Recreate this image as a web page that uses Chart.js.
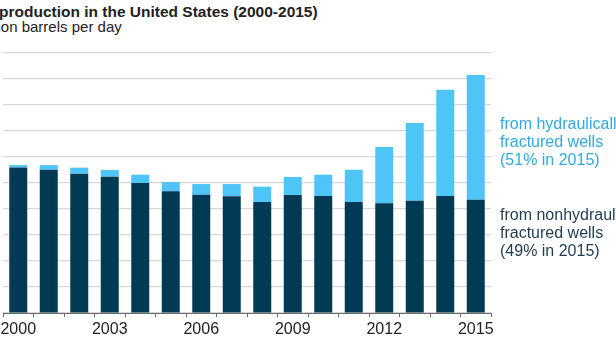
<!DOCTYPE html>
<html>
<head>
<meta charset="utf-8">
<script src="https://cdn.jsdelivr.net/npm/chart.js@4"></script>
<style>
  body { margin: 0; width: 616px; height: 346px; overflow: hidden; background: #fff; position: relative; font-family: "Liberation Sans", Arial, sans-serif; }
  #wrap { position: absolute; left: -40px; top: 0; width: 656px; height: 346px; }
  .title { position: absolute; left: -26px; top: 3px; font-size: 15.5px; line-height: 18px; font-weight: bold; color: #222; white-space: nowrap; }
  .subtitle { position: absolute; left: -25px; top: 18px; font-size: 15px; line-height: 18px; color: #222; white-space: nowrap; }
  .note { position: absolute; left: 500px; font-size: 16px; line-height: 18px; white-space: nowrap; }
  #note-frac { top: 115px; color: #33a9de; }
  #note-conv { top: 206px; color: #1f3b4f; }
</style>
</head>
<body>
<div class="title">Oil production in the United States (2000-2015)</div>
<div class="subtitle">million barrels per day</div>
<div id="wrap"><canvas id="chart" width="656" height="346"></canvas></div>
<div class="note" id="note-frac">from hydraulically<br>fractured wells<br>(51% in 2015)</div>
<div class="note" id="note-conv">from nonhydraulically<br>fractured wells<br>(49% in 2015)</div>
<script>
const years = ['2000', '2001', '2002', '2003', '2004', '2005', '2006', '2007',
  '2008', '2009', '2010', '2011', '2012', '2013', '2014', '2015'];

// million barrels per day
const nonFractured = [5.60, 5.51, 5.36, 5.24, 5.00, 4.68, 4.55, 4.49,
  4.27, 4.54, 4.50, 4.27, 4.22, 4.32, 4.50, 4.36];
const fractured = [0.09, 0.18, 0.23, 0.26, 0.32, 0.36, 0.41, 0.47,
  0.59, 0.69, 0.82, 1.24, 2.16, 2.99, 4.09, 4.79];

const darkBlue = '#003a54';
const lightBlue = '#4fc4f7';
const fontFamily = '"Liberation Sans", Arial, sans-serif';

const ctx = document.querySelector('#chart').getContext('2d');

new Chart(ctx, {
  type: 'bar',
  data: {
    labels: years,
    datasets: [
      { label: 'nonhydraulically fractured', data: nonFractured, backgroundColor: darkBlue },
      { label: 'hydraulically fractured', data: fractured, backgroundColor: lightBlue }
    ]
  },
  options: {
    responsive: false,
    animation: false,
    categoryPercentage: 1,
    barPercentage: 0.59,
    layout: { padding: { top: 53, right: 125, bottom: 0, left: 0 } },
    plugins: { legend: { display: false }, tooltip: { enabled: false } },
    scales: {
      x: {
        stacked: true,
        offset: true,
        grid: { offset: true, drawOnChartArea: false, drawTicks: true, tickLength: 4, color: '#6a6a6a' },
        border: { display: true, color: '#6a6a6a', width: 1 },
        ticks: {
          autoSkip: false,
          maxRotation: 0,
          padding: 3,
          color: '#222',
          font: { family: fontFamily, size: 16 },
          callback: (v, i) => (i % 3 === 0 ? years[i] : '')
        },
        afterFit: scale => { scale.height = 33; }
      },
      y: {
        stacked: true,
        min: 0,
        max: 10,
        grid: { color: '#d8d8d8', lineWidth: 1.2, drawTicks: false },
        border: { display: false },
        ticks: {
          stepSize: 1,
          padding: 12,
          color: '#222',
          font: { family: fontFamily, size: 16 }
        },
        afterFit: scale => { scale.width = 43; }
      }
    }
  }
});
</script>
</body>
</html>
